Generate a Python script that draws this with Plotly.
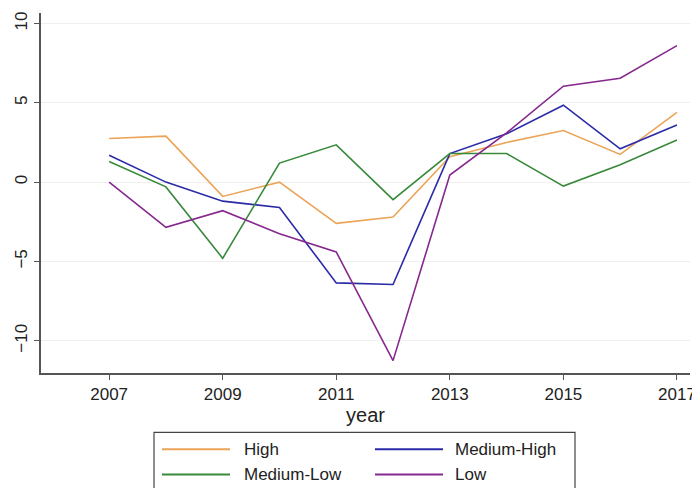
import plotly.graph_objects as go

# values
years = list(range(2007, 2018))
high = [2.75, 2.9, -0.9, 0.0, -2.6, -2.2, 1.6, 2.5, 3.25, 1.75, 4.4]
medium_high = [1.7, 0.0, -1.2, -1.6, -6.35, -6.45, 1.8, 3.05, 4.85, 2.1, 3.6]
medium_low = [1.3, -0.3, -4.8, 1.2, 2.35, -1.1, 1.8, 1.8, -0.25, 1.1, 2.65]
low = [0.0, -2.85, -1.8, -3.25, -4.4, -11.25, 0.45, 3.1, 6.05, 6.55, 8.6]

x_ticks = [2007, 2009, 2011, 2013, 2015, 2017]
y_ticks = [-10, -5, 0, 5, 10]

series = [
    ("High", high, "#eba458"),
    ("Medium-High", medium_high, "#2b2ba8"),
    ("Medium-Low", medium_low, "#38893a"),
    ("Low", low, "#86288d"),
]

FONT = "Liberation Sans, Arial, sans-serif"
AXIS = "#555555"

# the page body adds an 8px margin, so the figure is 8px smaller and
# every pixel position below is the reference position minus 8
W, H = 692, 480
OFF = 8
L, R, T, B = 41 - OFF, 690 - OFF, 13 - OFF, 372.7 - OFF
def px(x):
    return (x - OFF - L) / (R - L)
def py(y):
    return (B - (y - OFF)) / (B - T)

fig = go.Figure()
for name, vals, colour in series:
    fig.add_trace(go.Scatter(
        x=years, y=vals, name=name, mode="lines",
        line=dict(color=colour, width=1.6), showlegend=False,
    ))

# legend drawn by hand: 2 columns, 2 rows, in a box cut by the bottom edge
shapes = [dict(
    type="rect", xref="paper", yref="paper",
    x0=px(154), x1=px(575), y0=py(500), y1=py(432),
    line=dict(color="#444", width=1.2), fillcolor="rgba(0,0,0,0)",
)]
annotations = []
cols = [(162, 230, 242), (375, 443, 453)]
rows = [449, 474]
for i, (name, _, colour) in enumerate(series):
    x0, x1, xt = cols[i % 2]
    yy = rows[i // 2]
    shapes.append(dict(
        type="line", xref="paper", yref="paper",
        x0=px(x0), x1=px(x1), y0=py(yy), y1=py(yy),
        line=dict(color=colour, width=2),
    ))
    annotations.append(dict(
        text=name, xref="paper", yref="paper", x=px(xt), y=py(yy),
        xanchor="left", yanchor="middle", showarrow=False,
        font=dict(family=FONT, size=17, color="#222"),
    ))

fig.update_layout(
    width=W, height=H,
    margin=dict(l=L, r=W - R, t=T, b=H - B, autoexpand=False),
    paper_bgcolor="white", plot_bgcolor="white",
    font=dict(family=FONT, size=17, color="#222"),
    showlegend=False,
    xaxis=dict(
        range=[2005.8, 2017.23], tickvals=x_ticks,
        showgrid=False, zeroline=False,
        showline=True, linecolor=AXIS, linewidth=1.5,
        ticks="outside", ticklen=5, tickcolor=AXIS,
        title=dict(text="year", standoff=3),
        automargin=False,
    ),
    yaxis=dict(
        range=[-12.03, 10.66], tickvals=y_ticks, tickangle=-90,
        showgrid=True, gridcolor="#efefef", gridwidth=1, zeroline=False,
        showline=True, linecolor=AXIS, linewidth=1.5,
        ticks="outside", ticklen=5, tickcolor=AXIS,
        automargin=False,
    ),
    shapes=shapes,
    annotations=annotations,
)

fig.write_html("out.html")
